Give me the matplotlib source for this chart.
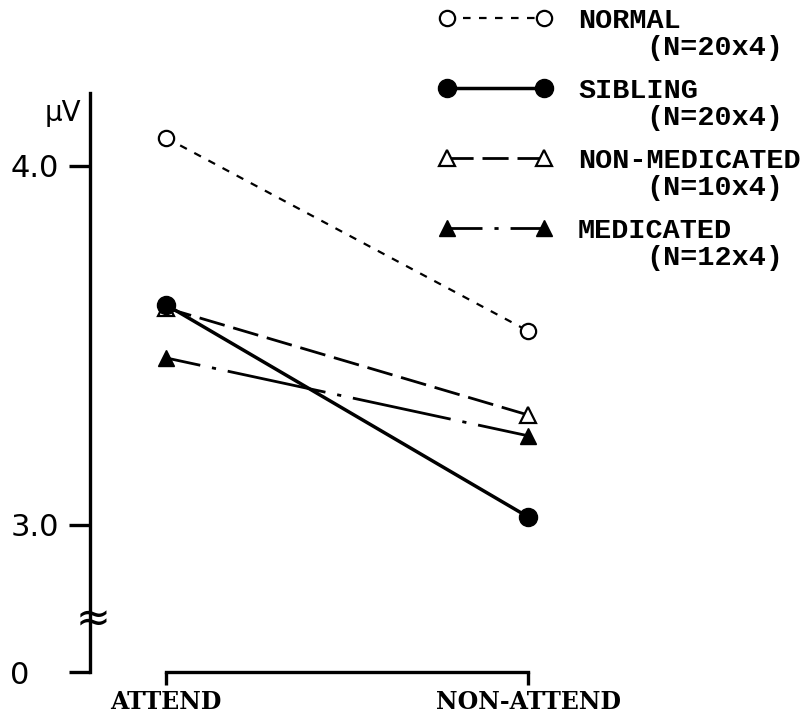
import matplotlib
matplotlib.use('Agg')
import matplotlib.pyplot as plt
from matplotlib.lines import Line2D
from matplotlib.legend_handler import HandlerLine2D

# data (uV)
conditions = ['ATTEND', 'NON-ATTEND']
normal = [4.078, 3.540]
sibling = [3.613, 3.022]
non_medicated = [3.604, 3.306]
medicated = [3.465, 3.248]
group_names = ['NORMAL', 'SIBLING', 'NON-MEDICATED', 'MEDICATED']
group_n = ['(N=20x4)', '(N=20x4)', '(N=10x4)', '(N=12x4)']

y_bottom = 2.59   # axis start, labelled "0" (broken axis)
y_break = 2.735
yticks = [y_bottom, 3.0, 4.0]
ytick_labels = ['0', '3.0', '4.0']

x = list(range(len(conditions)))
leg_font = {'family': 'Liberation Mono', 'size': 20.5, 'weight': 'bold'}

fig = plt.figure(figsize=(8.09, 7.16), dpi=100)
ax = fig.add_axes([90 / 809, 44 / 716, 470 / 809, 579 / 716])

l_norm, = ax.plot(x, normal, color='black', lw=1.6, linestyle=(0, (3.4, 3.8)),
                  marker='o', ms=11, mfc='white', mec='black', mew=1.6, zorder=3)
l_nonmed, = ax.plot(x, non_medicated, color='black', lw=2, linestyle=(0, (9.4, 3.2)),
                    marker='^', ms=12, mfc='white', mec='black', mew=1.6, zorder=3)
l_med, = ax.plot(x, medicated, color='black', lw=2, linestyle=(23.4, (36, 4.3, 1.5, 4.3)),
                 marker='^', ms=12, mfc='black', mec='black', zorder=3)
l_sib, = ax.plot(x, sibling, color='black', lw=2.5, linestyle='-',
                 marker='o', ms=13, mfc='black', mec='black', zorder=4)

ax.set_xlim(-0.21, 1.088)
ax.set_ylim(y_bottom, 4.203)

for s in ['top', 'right']:
    ax.spines[s].set_visible(False)
ax.spines['left'].set_linewidth(2.4)
ax.spines['bottom'].set_linewidth(2.4)
ax.spines['bottom'].set_bounds(0, 1)

ax.set_yticks(yticks)
ax.set_yticklabels(ytick_labels, fontsize=22, fontfamily='DejaVu Sans', ha='left')
ax.tick_params(axis='y', length=15, width=2.4, pad=42.5)
ax.set_xticks(x)
ax.set_xticklabels(conditions, fontsize=17, fontfamily='DejaVu Serif', fontweight='bold')
ax.tick_params(axis='x', length=9, width=2.4, pad=4)

# axis unit and break mark
ax.annotate('µV', xy=(0, 1), xycoords='axes fraction', xytext=(-6, -20),
            textcoords='offset points', ha='right', va='baseline', fontsize=20)
ax.annotate('≈', xy=(0, y_break), xycoords=ax.get_yaxis_transform(), xytext=(2, 0),
            textcoords='offset points', ha='center', va='center', fontsize=30)

leg = ax.legend([l_norm, l_sib, l_nonmed, l_med], group_names, loc='upper left',
                bbox_to_anchor=(447 / 809, 1 - 8 / 716), bbox_transform=fig.transFigure,
                frameon=False, prop=leg_font,
                handlelength=3.4, handletextpad=1.2, labelspacing=1.55,
                borderpad=0, borderaxespad=0, numpoints=2,
                handler_map={Line2D: HandlerLine2D(marker_pad=0)})

for txt, n in zip(leg.get_texts(), group_n):
    ax.annotate(n, xy=(0, 0), xycoords=txt, xytext=(49, -19.5), textcoords='offset points',
                ha='left', va='bottom', fontproperties=leg_font, zorder=6)

fig.savefig('out.png', dpi=100)
